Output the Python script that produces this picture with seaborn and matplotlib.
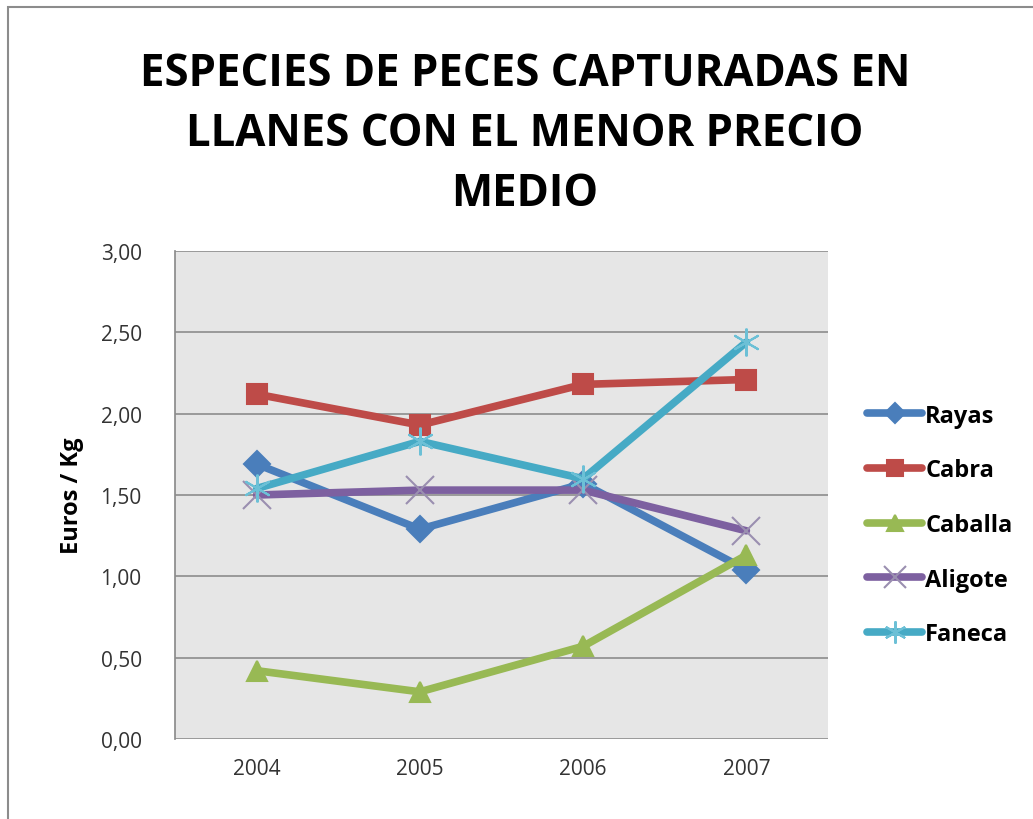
import pandas as pd
import matplotlib.pyplot as plt
import seaborn as sns
from matplotlib.patches import Rectangle
from matplotlib.ticker import FuncFormatter

sns.set_theme(style='white')
plt.rcParams['font.family'] = ['Open Sans', 'DejaVu Sans']

# Data
years = [2004, 2005, 2006, 2007]
species = ['Rayas', 'Cabra', 'Caballa', 'Aligote', 'Faneca']
rayas = [1.69, 1.29, 1.57, 1.04]
cabra = [2.12, 1.93, 2.18, 2.21]
caballa = [0.42, 0.29, 0.57, 1.13]
aligote = [1.50, 1.53, 1.53, 1.28]
faneca = [1.54, 1.83, 1.60, 2.44]

colors = ['#4A7EBB', '#BE4B48', '#98B954', '#7D60A0', '#46AAC5']
markers = ['D', 's', '^', 'x', (6, 2, 0)]
edge_colors = ['#4A7EBB', '#BE4B48', '#98B954', '#9a8fb0', '#6cc0d6']
marker_sizes = [13, 15, 15, 20, 20]

df = pd.DataFrame({
    'year': years * 5,
    'price': rayas + cabra + caballa + aligote + faneca,
    'species': [s for s in species for _ in years],
})

fig = plt.figure(figsize=(10.33, 8.2), dpi=100)
ax = fig.add_axes([175 / 1033, 1 - 740 / 820, 653 / 1033, 488 / 820])
ax.set_facecolor('#E6E6E6')

for s, c, m, ec, ms in zip(species, colors, markers, edge_colors, marker_sizes):
    sns.lineplot(
        data=df[df['species'] == s], x='year', y='price',
        color=c, marker=m, markersize=ms, markeredgecolor=ec,
        markeredgewidth=1.5, linewidth=5.5, ax=ax, label=s,
        legend=False
    )

ax.set_xlim(2003.5, 2007.5)
ax.set_ylim(0, 3)
ax.set_xticks(years)
ax.set_yticks([0, 0.5, 1, 1.5, 2, 2.5, 3])
ax.yaxis.set_major_formatter(FuncFormatter(lambda v, p: f'{v:.2f}'.replace('.', ',')))
ax.tick_params(axis='both', labelsize=15, length=0, labelcolor='#333333')
ax.tick_params(axis='y', pad=24)
ax.tick_params(axis='x', pad=14)
ax.grid(axis='y', color='#8c8c8c', linewidth=1.2)
ax.set_axisbelow(True)
for side in ['top', 'right', 'bottom']:
    ax.spines[side].set_visible(False)
ax.spines['left'].set_color('#8c8c8c')
ax.set_xlabel('')
ax.set_ylabel('Euros / Kg', fontsize=17, fontweight='bold', labelpad=12,
              color='black')

fig.text(0.508, 0.937,
         'ESPECIES DE PECES CAPTURADAS EN\nLLANES CON EL MENOR PRECIO\nMEDIO',
         ha='center', va='top', fontsize=31.5, fontweight='bold',
         linespacing=1.45, color='black')

# legend
handles = ax.get_lines()
leg = fig.legend(handles=handles, labels=species, loc='center left',
                 bbox_to_anchor=(858 / 1033, 1 - 526 / 820), frameon=False,
                 prop={'size': 17, 'weight': 'bold'}, handlelength=2.3,
                 handletextpad=0.15, labelspacing=1.3, markerscale=0.8,
                 borderaxespad=0)
for t in leg.get_texts():
    t.set_color('black')

# outer chart frame
fig.patches.append(Rectangle((8 / 1033, -0.1), 1.2, 1 - 8 / 820 + 0.1,
                             transform=fig.transFigure, fill=False,
                             edgecolor='#8c8c8c', linewidth=1.5))

fig.savefig('out.png', dpi=100)
